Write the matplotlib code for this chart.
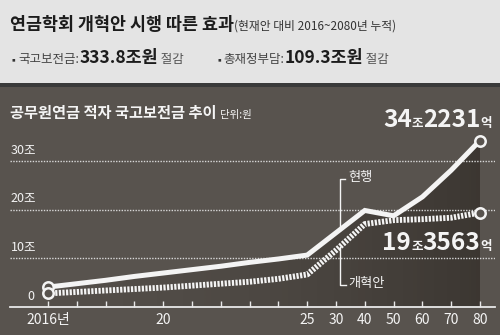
import matplotlib
matplotlib.use("Agg")
import matplotlib.pyplot as plt
import numpy as np
from matplotlib.colors import LinearSegmentedColormap
from matplotlib.patches import Polygon, Rectangle

plt.rcParams["font.family"] = ["Noto Sans CJK KR", "DejaVu Sans"]
plt.rcParams["lines.scale_dashes"] = False

# data (조원), 2016..2025 yearly then 2030..2080 per decade
tick_labels = ["2016년", "", "", "", "20", "", "", "", "", "25",
               "30", "40", "50", "60", "70", "80"]
current = [4.0, 4.7, 5.4, 6.2, 6.9, 7.6, 8.3, 9.1, 9.8, 10.6,
           15.2, 19.8, 18.7, 22.6, 28.1, 34.2231]
reform = [2.7, 3.0, 3.3, 3.6, 3.9, 4.3, 4.7, 5.1, 5.7, 6.6,
          11.6, 17.0, 17.8, 18.0, 18.3, 19.3563]
grid_values = [10, 20, 30]
savings = [("국고보전금:", "333.8조원"), ("총재정부담:", "109.3조원")]

W, H = 500, 335
BG = "#58534e"
TOP = "#e4e4e4"
WHITE = "#f4f4f4"

fig = plt.figure(figsize=(W / 100, H / 100), dpi=100, facecolor=BG)
renderer = fig.canvas.get_renderer()


def fx(px):
    return px / W


def fy(py):
    return 1 - py / H


def rich(x, y, parts, ha="left"):
    """Draw text pieces one after the other on a common baseline (pixels)."""
    texts = []
    cur = x
    for s, size, weight, color in parts:
        t = fig.text(fx(cur), fy(y), s, fontsize=size, fontweight=weight,
                     color=color, va="baseline", ha="left")
        cur += t.get_window_extent(renderer).width
        texts.append(t)
    if ha == "right":
        shift = cur - x
        for t in texts:
            px, py = t.get_position()
            t.set_position((px - shift / W, py))
    return texts


# header band
fig.patches.append(Rectangle((0, fy(83)), 1, 83 / H, transform=fig.transFigure,
                             facecolor=TOP, edgecolor="none"))
fig.patches.append(Rectangle((0, fy(87)), 1, 4 / H, transform=fig.transFigure,
                             facecolor="#3a3a3a", edgecolor="none"))

rich(10, 30, [("연금학회 개혁안 시행 따른 효과", 12.5, "bold", "#1c1c1c"),
              ("(현재안 대비 2016~2080년 누적)", 8.5, "normal", "#333333")])
for x0, (name, value) in zip([9, 214], savings):
    rich(x0, 63, [("▪", 7, "normal", "#333333"),
                  (name, 9, "normal", "#444444"),
                  (value, 12.5, "bold", "#1c1c1c"),
                  (" 절감", 9, "normal", "#555555")])

rich(10, 118, [("공무원연금 적자 국고보전금 추이 ", 11, "bold", WHITE),
               ("단위:원", 7.5, "normal", WHITE)])

# chart axes
ax = fig.add_axes([fx(10), 0, 485 / W, (H - 88) / H])
ax.set_facecolor("none")
x = np.arange(len(current))
xmin, xmax = (10 - 48) / 28.8, (495 - 48) / 28.8
ymin, ymax = (306.5 - 335) / 4.85, (306.5 - 88) / 4.85

# shaded area under the current-plan line, darkening to the right
area = Polygon([(x[0], 0)] + list(zip(x, current)) + [(x[-1], 0)],
               closed=True, facecolor="none", edgecolor="none")
ax.add_patch(area)
shade = LinearSegmentedColormap.from_list(
    "shade", [(0.22, 0.2, 0.18, 0.15), (0.2, 0.18, 0.16, 0.75)])
grad = np.linspace(0, 1, 256).reshape(1, -1) ** 1.6
im = ax.imshow(grad, extent=[x[0], x[-1], 0, max(current)], aspect="auto",
               cmap=shade, origin="lower", zorder=1)
im.set_clip_path(area)

ax.plot(x, current, color=WHITE, lw=3.6, solid_joinstyle="miter", zorder=4)
ax.plot(x, reform, color=WHITE, lw=4.2, dashes=(1.6, 1.0),
        dash_capstyle="butt", zorder=3)
for series in (current, reform):
    ax.plot([x[0], x[-1]], [series[0], series[-1]], "o", ms=7.5, mfc=BG,
            mec=WHITE, mew=1.8, zorder=5)

ax.set_xlim(xmin, xmax)
ax.set_ylim(ymin, ymax)

# grid and value labels
ax.set_yticks(grid_values)
ax.yaxis.grid(True, color="#d8d8d8", ls=(0, (1, 1)), lw=1.0)
ax.tick_params(axis="y", left=False, labelleft=False)
for v in grid_values:
    ax.text(0.002, v + 0.9, f"{v}조", transform=ax.get_yaxis_transform(),
            color=WHITE, fontsize=9, va="bottom", ha="left")
ax.text(-0.6, 0.8, "0", color=WHITE, fontsize=9, va="bottom", ha="center")

for side in ("left", "right", "top"):
    ax.spines[side].set_visible(False)
ax.spines["bottom"].set_position(("data", 0))
ax.spines["bottom"].set_color("#e8e8e8")
ax.spines["bottom"].set_linewidth(1.3)
ax.set_xticks(x)
ax.set_xticklabels(tick_labels)
ax.tick_params(axis="x", direction="in", length=4, width=1, color="#e8e8e8",
               labelcolor=WHITE, labelsize=10, pad=5)

# series labels with leader brackets
bx = 10.14
ax.plot([bx, bx, bx + 0.18], [np.interp(bx, x, current), 26.3, 26.3],
        color=WHITE, lw=1)
ax.text(bx + 0.3, 26.5, "현행", color=WHITE, fontsize=9.5, va="center")
ax.plot([bx, bx, bx + 0.22], [np.interp(bx, x, reform), 4.4, 4.4],
        color=WHITE, lw=1)
ax.text(bx + 0.3, 4.7, "개혁안", color=WHITE, fontsize=9.5, va="center")


def jo_eok(v):
    jo = int(v)
    return str(jo), str(int(round((v - jo) * 10000)))


for series, base in ((current, 127), (reform, 250)):
    jo, eok = jo_eok(series[-1])
    rich(492, base, [(jo, 17.5, "bold", WHITE), ("조", 9, "bold", WHITE),
                     (eok, 17.5, "bold", WHITE), ("억", 9, "bold", WHITE)],
         ha="right")

fig.savefig("out.png", dpi=100, facecolor=BG)
